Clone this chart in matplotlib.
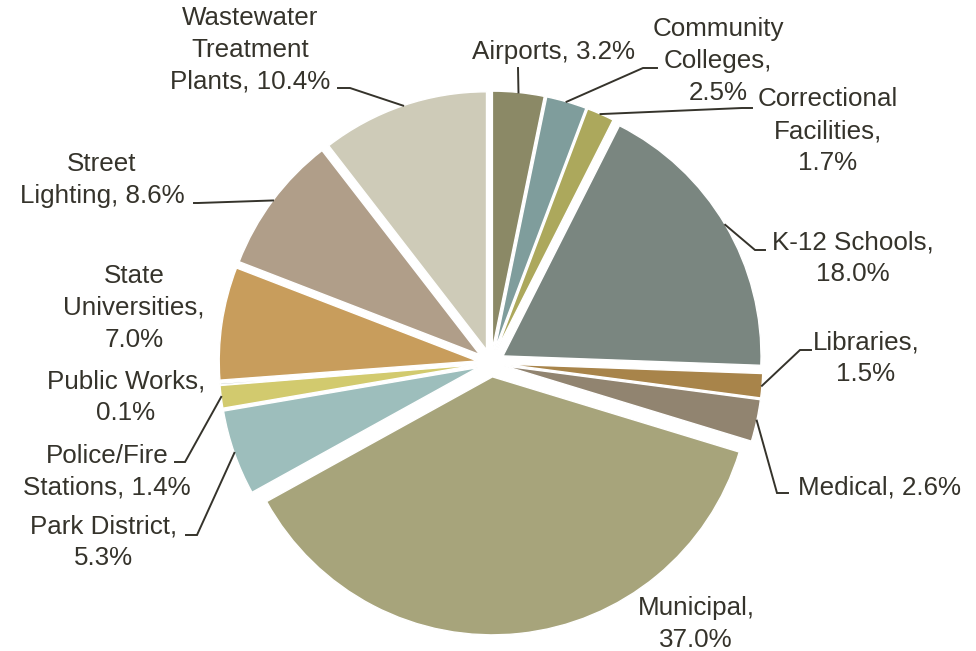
import numpy as np
import matplotlib
matplotlib.use("Agg")
import matplotlib.pyplot as plt

plt.rcParams["font.family"] = ["Liberation Sans", "DejaVu Sans"]

# Share of energy use by facility type (%)
categories = [
    "Airports", "Community\nColleges", "Correctional\nFacilities", "K-12 Schools",
    "Libraries", "Medical", "Municipal", "Park District", "Police/Fire\nStations",
    "Public Works", "State\nUniversities", "Street\nLighting",
    "Wastewater\nTreatment\nPlants",
]
shares = [3.2, 2.5, 1.7, 18.0, 1.5, 2.6, 37.0, 5.3, 1.4, 0.1, 7.0, 8.6, 10.4]
label_text = [
    "Airports, 3.2%", "Community\nColleges,\n2.5%", "Correctional\nFacilities,\n1.7%",
    "K-12 Schools,\n18.0%", "Libraries,\n1.5%", "Medical, 2.6%", "Municipal,\n37.0%",
    "Park District,\n5.3%", "Police/Fire\nStations, 1.4%", "Public Works,\n0.1%",
    "State\nUniversities,\n7.0%", "Street\nLighting, 8.6%", "Wastewater\nTreatment\nPlants, 10.4%",
]
colors = [
    "#8b8966", "#7f9d9c", "#aca85c", "#7a8680", "#a8844a", "#918470", "#a7a47b",
    "#9dbebc", "#d2ca6e", "#96a098", "#c89d5c", "#b09e89", "#cecbb8",
]

W, H = 976, 651
CX, CY, SCALE = 491, 363, 258.0


def px(x, y):
    # pixel position -> data coords (pie radius = 1)
    return (x - CX) / SCALE, (CY - y) / SCALE


# label centre, leader knee and leader end (pixels); None = no leader
label_pos = [(553, 52), (718, 61), (828, 131), (853, 258), (866, 358), (879, 487),
             (696, 624), (104, 542), (107, 472), (126, 397), (134, 308),
             (102, 180), (250, 50)]
knees = [(518, 68), (643, 68), (742, 108), (755, 250), (800, 350), (777, 493),
         None, (197, 535), (185, 462), None, None, (198, 203), (350, 88)]
ends = [(518, 68), (657, 68), (752, 108), (765, 250), (811, 350), (788, 493),
        None, (186, 535), (175, 462), None, None, (194, 203), (338, 88)]

text_color = "#35332b"

fig = plt.figure(figsize=(W / 100, H / 100), dpi=100)
ax = fig.add_axes([0, 0, 1, 1])

wedges, _ = ax.pie(
    shares,
    colors=colors,
    startangle=90,
    counterclock=False,
    explode=[0.054] * len(shares),
    wedgeprops=dict(edgecolor="white", linewidth=1.0),
)

for w, txt, pos, knee, end in zip(wedges, label_text, label_pos, knees, ends):
    x, y = px(*pos)
    ax.text(x, y, txt, ha="center", va="center", multialignment="center",
            fontsize=18.7, color=text_color, linespacing=1.42)
    if knee is None:
        continue
    mid = np.deg2rad((w.theta1 + w.theta2) / 2)
    sx = w.center[0] + w.r * np.cos(mid)
    sy = w.center[1] + w.r * np.sin(mid)
    kx, ky = px(*knee)
    ex, ey = px(*end)
    ax.plot([sx, kx, ex], [sy, ky, ey], color=text_color, lw=1.4,
            solid_joinstyle="miter")

ax.set_xlim(-CX / SCALE, (W - CX) / SCALE)
ax.set_ylim(-(H - CY) / SCALE, CY / SCALE)
ax.set_aspect("auto")
ax.axis("off")

fig.savefig("out.png", dpi=100)
